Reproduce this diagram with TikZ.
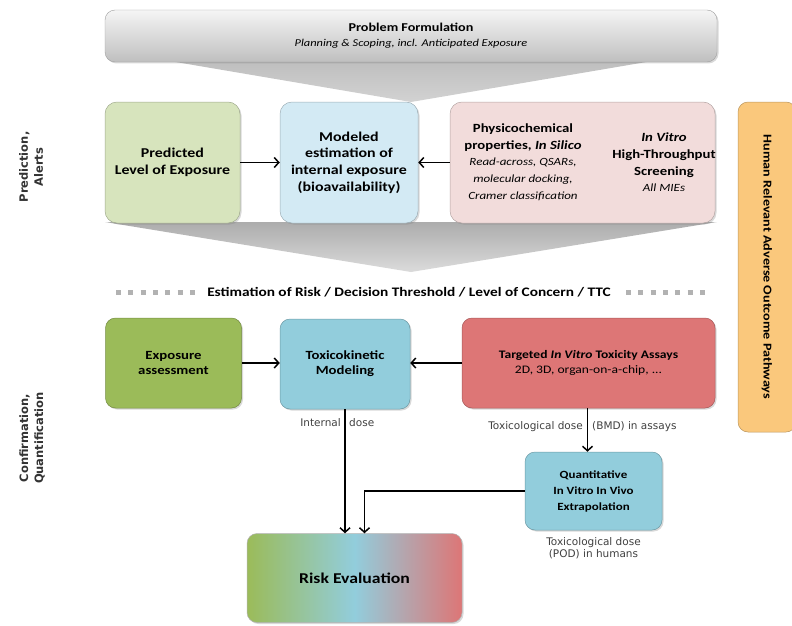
\documentclass[tikz,border=0pt]{standalone}
\usepackage{fontspec}
\setmainfont{Carlito}[FakeStretch=1.18]
\newfontfamily\sidefont{DejaVu Sans}
\usepackage{xcolor}
\usetikzlibrary{arrows.meta,shadows}

\definecolor{gLight}{HTML}{D7E4BD}
\definecolor{bLight}{HTML}{D3EAF4}
\definecolor{pLight}{HTML}{F2DCDB}
\definecolor{gDark}{HTML}{9BBB59}
\definecolor{bDark}{HTML}{92CDDC}
\definecolor{rDark}{HTML}{DD7676}
\definecolor{orng}{HTML}{FAC87C}

\begin{document}
\begin{tikzpicture}[x=1pt,y=-1pt,
    midbox/.style={rounded corners=12pt, draw=#1!75!black, line width=0.5pt, fill=#1,
        minimum height=121pt, inner sep=0pt, align=center,
        font=\fontsize{13.5}{16.7}\selectfont\bfseries,
        drop shadow={opacity=0.3, shadow xshift=1.5pt, shadow yshift=-1.5pt}},
    lowbox/.style={rounded corners=10pt, draw=#1!75!black, line width=0.5pt, fill=#1,
        minimum height=90pt, inner sep=0pt, align=center,
        font=\fontsize{12.5}{15}\selectfont\bfseries,
        drop shadow={opacity=0.3, shadow xshift=1.5pt, shadow yshift=-1.5pt}},
    arr/.style={-{Straight Barb[length=4.5pt,width=10pt]}, line width=1.5pt},
    lbl/.style={font=\sidefont\fontsize{10.5}{12}\selectfont, text=black!75, inner sep=0pt, align=center},
    sidelbl/.style={font=\sidefont\fontsize{11.5}{15}\selectfont\bfseries, text=black!80, align=center, rotate=90},
    sqline/.style={line width=5pt, gray!60, dash pattern=on 5pt off 7.3pt}]
    \clip (0,0) rectangle (792,626);

    \shade[top color=gray!55, bottom color=gray!35] (105,50) -- (717,50) -- (411,102) -- cycle;
    \shade[top color=gray!65, bottom color=gray!28] (105,222) -- (717,222) -- (411,272) -- cycle;

    \node[rounded corners=10pt, draw=gray!75, top color=gray!8, bottom color=gray!50,
        minimum width=612pt, minimum height=52pt, align=center,
        font=\fontsize{12}{15}\selectfont,
        drop shadow={opacity=0.3, shadow xshift=1.5pt, shadow yshift=-1.5pt}]
        (probform) at (411,36) {\textbf{Problem Formulation}\\{\fontsize{10.5}{15}\selectfont\itshape Planning \& Scoping, incl. Anticipated Exposure}};

    \node[sidelbl] (predalerts) at (31,167) {Prediction,\\Alerts};
    \node[sidelbl] (confquant) at (32,438) {Confirmation,\\Quantification};

    \node[midbox=gLight, minimum width=135pt] (predexp) at (172.5,162.5) {Predicted\\Level of Exposure};
    \node[midbox=bLight, minimum width=138pt] (modexp) at (349,162.5) {Modeled\\estimation of\\internal exposure\\(bioavailability)};
    \node[midbox=pLight, minimum width=265pt] (insilico) at (582.5,162.5) {};
    \node[align=center, font=\fontsize{12.5}{16.7}\selectfont] (physchem) at (523,162)
        {\textbf{Physicochemical}\\\textbf{properties, \textit{In Silico}}\\{\fontsize{11}{16.7}\selectfont\itshape Read-across, QSARs,}\\{\fontsize{11}{16.7}\selectfont\itshape molecular docking,}\\{\fontsize{11}{16.7}\selectfont\itshape Cramer classification}};
    \node[align=center, font=\fontsize{12.5}{16.7}\selectfont] (htscreen) at (664,162.5)
        {\textbf{\textit{In Vitro}}\\\textbf{High-Throughput}\\\textbf{Screening}\\{\fontsize{11}{16.7}\selectfont\itshape All MIEs}};

    \draw[arr] (predexp) -- (modexp);
    \draw[arr] (insilico) -- (modexp);

    \draw[sqline] (116,292) -- (195,292);
    \draw[sqline] (626,292) -- (705,292);
    \node[font=\fontsize{13}{16}\selectfont\bfseries] (riskline) at (409,292) {Estimation of Risk / Decision Threshold / Level of Concern / TTC};

    \node[rotate=-90, rounded corners=10pt, draw=orng!75!black, line width=0.5pt, fill=orng,
        minimum width=330pt, minimum height=58pt, font=\fontsize{12}{15}\selectfont\bfseries]
        (hraop) at (767,267) {Human Relevant Adverse Outcome Pathways};

    \node[lowbox=gDark, minimum width=136pt] (expoass) at (173.5,363) {Exposure\\assessment};
    \node[lowbox=bDark, minimum width=130pt] (tkmod) at (345,364) {Toxicokinetic\\Modeling};
    \node[lowbox=rDark, minimum width=253pt, font=\fontsize{11.5}{15}\selectfont] (assays) at (588.5,363)
        {\textbf{Targeted \textit{In Vitro} Toxicity Assays}\\2D, 3D, organ-on-a-chip, ...};
    \node[lowbox=bDark, minimum width=137pt, minimum height=78pt, font=\fontsize{11}{16}\selectfont\bfseries]
        (qivive) at (593.5,491) {Quantitative\\In Vitro In Vivo\\Extrapolation};
    \node[rounded corners=10pt, draw=gray!60, line width=0.5pt, left color=gDark, right color=rDark, middle color=bDark,
        minimum width=215pt, minimum height=89pt, font=\fontsize{15}{18}\selectfont\bfseries,
        drop shadow={opacity=0.3, shadow xshift=1.5pt, shadow yshift=-1.5pt}]
        (riskeval) at (354.5,578) {Risk Evaluation};

    \node[lbl, anchor=east] (intlbl) at (341,423) {Internal};
    \node[lbl, anchor=west] (doselbl) at (349,423) {dose};
    \node[lbl, anchor=east] (toxdose) at (583,427) {Toxicological dose};
    \node[lbl, anchor=west] (bmdlbl) at (592,427) {(BMD) in assays};
    \node[lbl] (podlbl) at (593.5,548) {Toxicological dose\\(POD) in humans};

    \coordinate (riskin) at ([xshift=10pt]riskeval.north);
    \coordinate (qin) at ([xshift=-6pt]qivive.north);
    \draw[arr] (expoass.east) -- (expoass.east -| tkmod.west);
    \draw[arr] (assays.west) -- (assays.west -| tkmod.east);
    \draw[arr] (tkmod.south) -- (tkmod.south |- riskeval.north);
    \draw[arr] (qivive.west) -| (riskin);
    \draw[arr] (assays.south -| qin) -- (qin);
\end{tikzpicture}
\end{document}
